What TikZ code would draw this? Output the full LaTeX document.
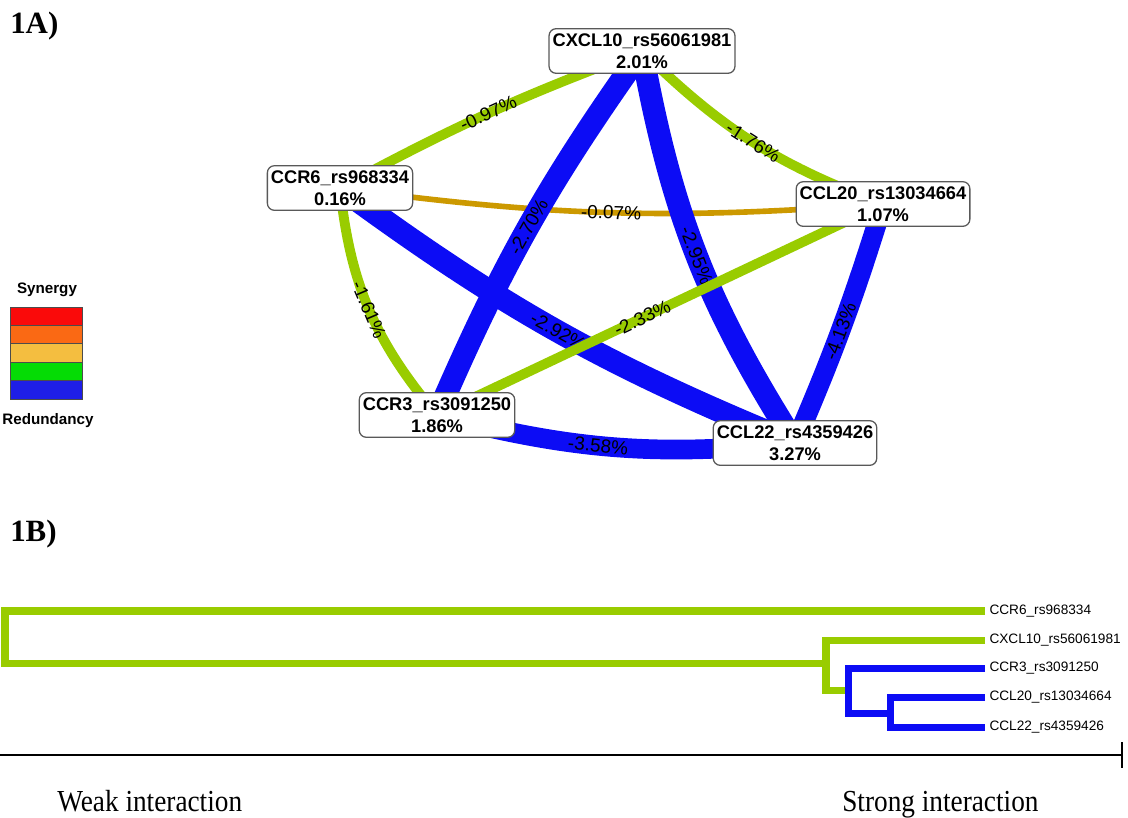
\documentclass[tikz,border=0pt]{standalone}
\usepackage{fontspec}
\setmainfont{Liberation Serif}
\setsansfont{Liberation Sans}
\usetikzlibrary{backgrounds}
\definecolor{lime}{RGB}{153,204,0}
\definecolor{redund}{RGB}{12,12,245}
\definecolor{ochre}{RGB}{204,153,0}
\definecolor{legred}{RGB}{250,10,10}
\definecolor{legorange}{RGB}{250,105,20}
\definecolor{legyellow}{RGB}{244,190,64}
\definecolor{leggreen}{RGB}{5,220,5}
\definecolor{legblue}{RGB}{30,30,232}

\begin{document}
\begin{tikzpicture}[x=0.025cm,y=0.025cm,
  gene/.style={draw=black!65,line width=0.9pt,rounded corners=5pt,fill=white,align=center,
    inner xsep=2.5pt,inner ysep=3.5pt,font=\sffamily\bfseries\fontsize{13}{15.5}\selectfont},
  pct/.style={sloped,inner sep=0pt,font=\sffamily\fontsize{13.5}{15}\selectfont},
  syn/.style={draw=lime,line width=7pt},
  rdn/.style={draw=redund,line width=16pt},
  mid/.style={draw=ochre,line width=4pt},
  tree/.style={line width=5pt,line join=miter},
  leaf/.style={anchor=west,inner xsep=3pt,inner ysep=0pt,font=\sffamily\fontsize{9.7}{11}\selectfont},
  legtxt/.style={font=\sffamily\bfseries\fontsize{10.8}{12}\selectfont},
  axtxt/.style={font=\fontsize{19.4}{22}\selectfont,anchor=base west,inner sep=0pt}]
\useasboundingbox (0,0) rectangle (1128,-817);

\node[font=\bfseries\fontsize{22}{24}\selectfont,anchor=base west,inner sep=0pt] (pa) at (10,-33) {1A)};
\node[font=\bfseries\fontsize{22}{24}\selectfont,anchor=base west,inner sep=0pt] (pb) at (10,-541) {1B)};

\node[gene] (cxcl) at (642,-51) {CXCL10\_rs56061981\\2.01\%};
\node[gene] (ccr6) at (340,-188) {CCR6\_rs968334\\0.16\%};
\node[gene] (ccl20) at (883,-204) {CCL20\_rs13034664\\1.07\%};
\node[gene] (ccr3) at (437,-415) {CCR3\_rs3091250\\1.86\%};
\node[gene] (ccl22) at (795,-443) {CCL22\_rs4359426\\3.27\%};

\begin{scope}[on background layer]
\draw[mid] (ccr6.center) to[bend right=6] node[pct] {-0.07\%} (ccl20.center);
\draw[rdn] (cxcl.center) to[bend right=6] node[pct] {-2.70\%} (ccr3.center);
\draw[rdn] (cxcl.center) to[bend right=11] node[pct] {-2.95\%} (ccl22.center);
\draw[rdn] (ccr6.center) to[bend right=7] node[pct,pos=0.5] {-2.92\%} (ccl22.center);
\draw[rdn,line width=14pt] (ccl20.center) to[bend left=3] node[pct,pos=0.53] {-4.13\%} (ccl22.center);
\draw[rdn,line width=14pt] (ccl22.center) to[bend left=10] node[pct,pos=0.55] {-3.58\%} (ccr3.center);
\draw[syn] (ccr6.center) to[bend left=4] node[pct] {-0.97\%} (cxcl.center);
\draw[syn] (cxcl.center) to[bend right=12] node[pct] {-1.76\%} (ccl20.center);
\draw[syn] (ccr3.center) to[bend left=17] node[pct] {-1.61\%} (ccr6.center);
\draw[syn] (ccl20.center) -- node[pct,pos=0.54] {-2.33\%} (ccr3.center);
\end{scope}

\node[legtxt] (syntxt) at (47,-290) {Synergy};
\foreach \c [count=\i] in {legred,legorange,legyellow,leggreen,legblue}
  \draw[draw=black!70,line width=0.6pt,fill=\c] (10,{-307-(\i-1)*18.4}) rectangle (82,{-307-\i*18.4});
\node[legtxt] (rdntxt) at (48,-421) {Redundancy};

\foreach \n/\t/\y in {l1/CCR6\_rs968334/611,l2/CXCL10\_rs56061981/640,l3/CCR3\_rs3091250/668,l4/CCL20\_rs13034664/697,l5/CCL22\_rs4359426/727}
  \node[leaf] (\n) at (985,-\y) {\t};

\draw[tree,draw=lime] (l1.west) -| (5,-663) -- (826,-663);
\draw[tree,draw=lime] (l2.west) -| (826,-690) -- (848,-690);
\draw[tree,draw=redund] (l3.west) -| (848,-713) -- (890,-713);
\draw[tree,draw=redund] (l4.west) -| (890,-727) -- (l5.west);

\coordinate (axl) at (0,-755);
\coordinate (axr) at (1122,-755);
\draw[line width=2pt] (axl) -- (axr);
\draw[line width=1.5pt] (1122,-742) -- (1122,-768);

\node[axtxt] (weak) at (57,-811) {\scalebox{1}[1.12]{Weak interaction}};
\node[axtxt] (strong) at (842,-811) {\scalebox{1}[1.12]{Strong interaction}};
\end{tikzpicture}
\end{document}
